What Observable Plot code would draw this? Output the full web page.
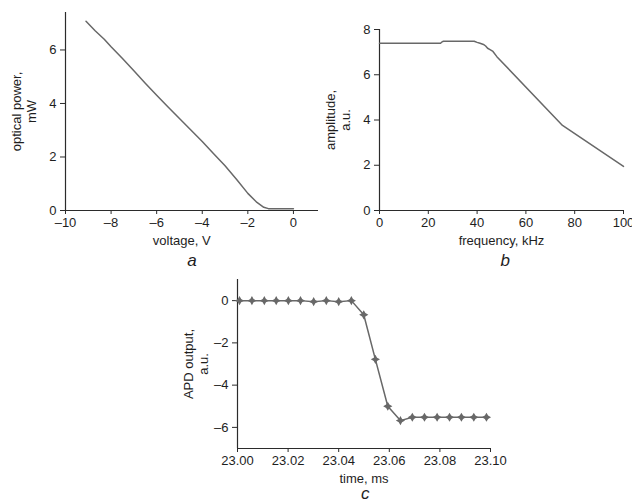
<!DOCTYPE html>
<html><head><meta charset="utf-8">
<script src="https://cdn.jsdelivr.net/npm/d3@7"></script>
<script src="https://cdn.jsdelivr.net/npm/@observablehq/plot@0.6"></script>
<style>
html,body{margin:0;padding:0;background:#fff;}
#wrap{position:relative;width:632px;height:502px;overflow:hidden;background:#fff;}
#wrap > svg{position:absolute;overflow:visible;}
</style></head><body><div id="wrap"></div>
<script>
// Panel a: optical power vs voltage
const voltage = [-9.1, -8.7, -8.3, -8.0, -7.5, -7.0, -6.5, -6.0, -5.5, -5.0, -4.5, -4.0, -3.5, -3.0, -2.5, -2.0, -1.6, -1.3, -1.1, -0.5, 0];
const power   = [7.07, 6.72, 6.40, 6.12, 5.68, 5.22, 4.76, 4.31, 3.87, 3.44, 3.01, 2.58, 2.12, 1.67, 1.17, 0.64, 0.30, 0.12, 0.07, 0.07, 0.07];
const voltageTicks = [-10, -8, -6, -4, -2, 0];
const powerTicks = [0, 2, 4, 6];

// Panel b: amplitude vs frequency
const freq      = [0, 25.0, 25.6, 26.2, 38.8, 40.0, 41.2, 42.6, 43.5, 44.3, 45.3, 46.5, 48.1, 75, 100];
const amplitude = [7.39, 7.39, 7.45, 7.48, 7.48, 7.43, 7.39, 7.34, 7.27, 7.17, 7.11, 7.03, 6.80, 3.76, 1.95];
const freqTicks = [0, 20, 40, 60, 80, 100];
const ampTicks = [0, 2, 4, 6, 8];

// Panel c: APD output vs time
const time = [23.0008, 23.0057, 23.0106, 23.0153, 23.0201, 23.0249, 23.0301, 23.0351, 23.0400, 23.0450, 23.0499,
              23.0545, 23.0594, 23.0644, 23.0691, 23.0739, 23.0789, 23.0838, 23.0885, 23.0934, 23.0984];
const apd  = [0, 0, 0, 0, 0, 0, -0.05, 0, -0.05, 0, -0.67,
              -2.78, -5.0, -5.68, -5.52, -5.52, -5.52, -5.52, -5.52, -5.52, -5.52];
const timeTicks = [23.00, 23.02, 23.04, 23.06, 23.08, 23.10];
const apdTicks = [0, -2, -4, -6];

const LINE = "#686868", AXIS = "#2b2b2b", TEXT = "#1e1e1e";
const FONT = "'Liberation Sans', Arial, Helvetica, sans-serif";
const dash = v => (v < 0 ? "\u2013" : "") + Math.abs(v);

const star4 = {
  draw(ctx, size) {
    const r = Math.sqrt(size / Math.PI), k = r * 0.36;
    ctx.moveTo(0, -r); ctx.lineTo(k, -k); ctx.lineTo(r, 0); ctx.lineTo(k, k);
    ctx.lineTo(0, r); ctx.lineTo(-k, k); ctx.lineTo(-r, 0); ctx.lineTo(-k, -k); ctx.closePath();
  }
};

function panel(o) {
  const svg = Plot.plot({
    width: o.width, height: o.height,
    marginLeft: o.ml, marginRight: o.mr, marginTop: o.mt, marginBottom: o.mb,
    x: {domain: o.xDomain},
    y: {domain: o.yDomain},
    style: {fontFamily: FONT, fontSize: "13px", color: TEXT, background: "transparent", overflow: "visible"},
    marks: [
      Plot.ruleX([o.xDomain[0]], {y1: o.yDomain[0], y2: o.yDomain[1], stroke: AXIS, strokeWidth: 1.2}),
      Plot.ruleY([o.yDomain[0]], {x1: o.xDomain[0], x2: o.xDomain[1], stroke: AXIS, strokeWidth: 1.2}),
      Plot.axisX(o.xTicks, {tickSize: 4, tickPadding: 3, tickFormat: o.xFmt, label: null, stroke: AXIS, fill: TEXT}),
      Plot.axisY(o.yTicks, {tickSize: 5, tickPadding: 4, tickFormat: o.yFmt, label: null, stroke: AXIS, fill: TEXT}),
      ...o.marks,
      Plot.text([o.xLabel], {x: d => d.x, text: d => d.t, frameAnchor: "bottom", lineAnchor: "middle", textAnchor: "middle", dy: o.xLabelDy, fill: TEXT, fontSize: 13}),
      Plot.text([o.yLabel], {text: d => d, frameAnchor: "left", rotate: -90, textAnchor: "middle", lineAnchor: "middle", dx: o.yLabelDx, lineHeight: 1.2, fill: TEXT, fontSize: 13}),
      Plot.text([o.tag], {x: d => d.x, text: d => d.t, frameAnchor: "bottom", lineAnchor: "middle", textAnchor: "middle", dy: o.tagDy, fill: TEXT, fontSize: 17, fontStyle: "italic"})
    ]
  });
  svg.style.left = o.left + "px";
  svg.style.top = o.top + "px";
  document.getElementById("wrap").appendChild(svg);
}

panel({
  left: 0, top: 0, width: 320, height: 250, ml: 65, mr: 2, mt: 12, mb: 40,
  xDomain: [-10, 1.1], yDomain: [0, 7.4], xTicks: voltageTicks, yTicks: powerTicks, xFmt: dash, yFmt: dash,
  xLabel: {t: "voltage, V", x: -4.9}, xLabelDy: 30,
  yLabel: "optical power,\nmW", yLabelDx: -42,
  tag: {t: "a", x: -4.45}, tagDy: 50,
  marks: [Plot.line(voltage.map((v, i) => ({v, p: power[i]})), {x: "v", y: "p", stroke: LINE, strokeWidth: 1.5})]
});

panel({
  left: 310, top: 0, width: 322, height: 250, ml: 69, mr: 9, mt: 29, mb: 40,
  xDomain: [0, 100], yDomain: [0, 8], xTicks: freqTicks, yTicks: ampTicks, xFmt: dash, yFmt: dash,
  xLabel: {t: "frequency, kHz", x: 50}, xLabelDy: 30,
  yLabel: "amplitude,\na.u.", yLabelDx: -42,
  tag: {t: "b", x: 51.5}, tagDy: 50,
  marks: [Plot.line(freq.map((f, i) => ({f, a: amplitude[i]})), {x: "f", y: "a", stroke: LINE, strokeWidth: 1.5})]
});

const cData = time.map((t, i) => ({t, v: apd[i]}));
panel({
  left: 150, top: 250, width: 360, height: 252, ml: 87, mr: 20, mt: 29, mb: 54,
  xDomain: [23.0, 23.1], yDomain: [-7, 1], xTicks: timeTicks, yTicks: apdTicks, xFmt: d3.format(".2f"), yFmt: dash,
  xLabel: {t: "time, ms", x: 23.05}, xLabelDy: 30,
  yLabel: "APD output,\na.u.", yLabelDx: -42,
  tag: {t: "c", x: 23.0505}, tagDy: 45,
  marks: [
    Plot.line(cData, {x: "t", y: "v", stroke: LINE, strokeWidth: 1.5}),
    Plot.dot(cData, {x: "t", y: "v", symbol: star4, r: 4.6, fill: LINE, stroke: "none"})
  ]
});
</script></body></html>
